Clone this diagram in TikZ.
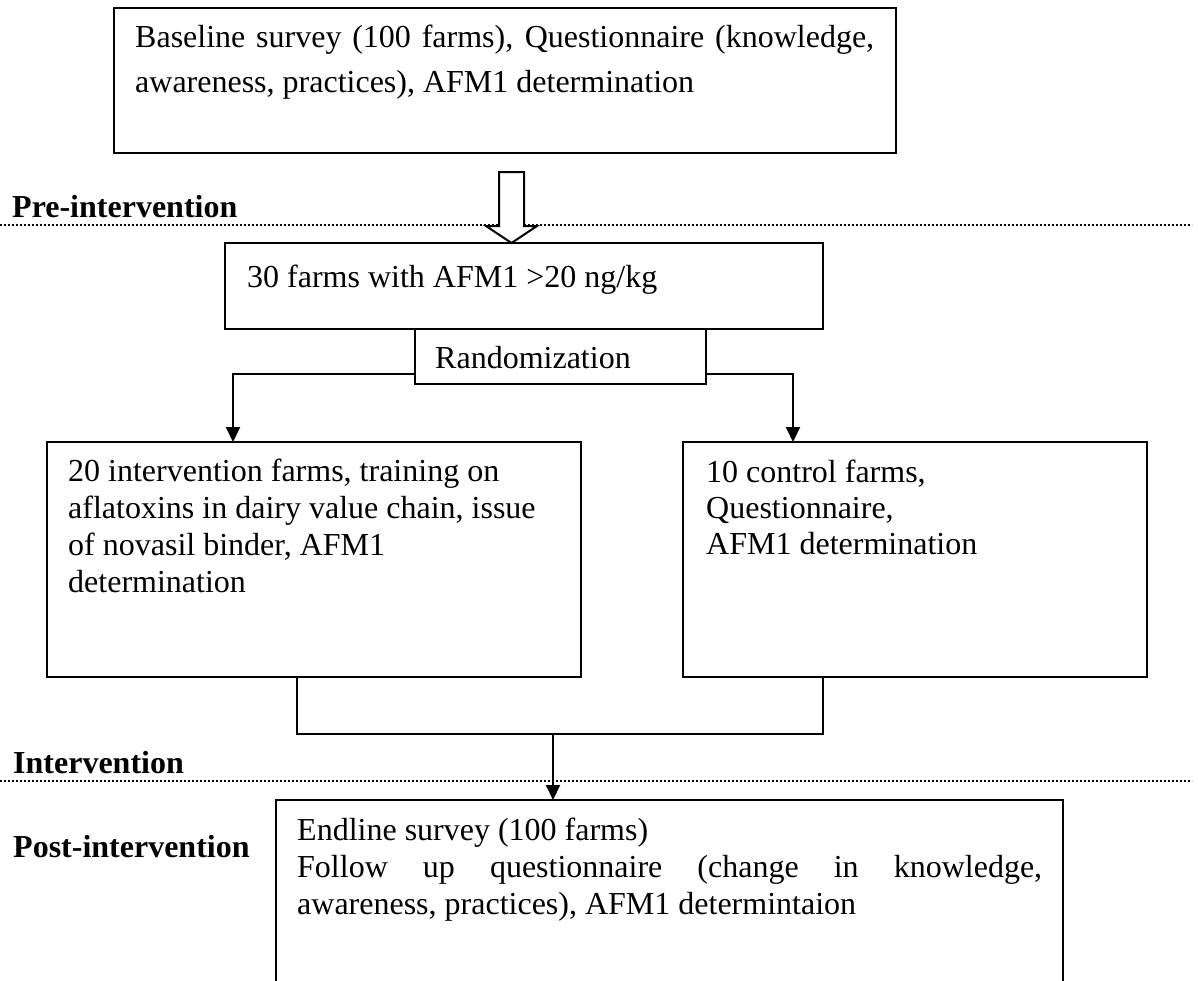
\documentclass[tikz,border=0pt]{standalone}
\usepackage{fontspec}
\setmainfont{Liberation Serif}
\usetikzlibrary{arrows.meta}
\begin{document}
\begin{tikzpicture}[x=1pt,y=-1pt,
  box/.style={draw, line width=2pt, inner sep=0pt, outer sep=0pt, anchor=north west},
  txt/.style={inner sep=0pt, anchor=base west, font=\fontsize{32pt}{37pt}\selectfont},
  lbl/.style={inner sep=0pt, anchor=base west, font=\fontsize{32pt}{37pt}\selectfont\bfseries},
  conn/.style={line width=2pt},
  arr/.style={line width=2pt, -{Triangle[length=15pt,width=14pt]}},
  dotline/.style={line width=2pt, dash pattern=on 2pt off 2pt}]
\useasboundingbox (0,0) rectangle (1198,980);
\clip (0,0) rectangle (1198,980);
% boxes
\node[box, minimum width=782pt, minimum height=145pt] (top) at (114,8) {};
\node[box, minimum width=598pt, minimum height=86pt] (sel) at (225,243) {};
\node[box, minimum width=291pt, minimum height=55pt, fill=white] (rand) at (415,329) {};
\node[box, minimum width=534pt, minimum height=235pt] (lbox) at (47,442) {};
\node[box, minimum width=464pt, minimum height=235pt] (rbox) at (683,442) {};
\node[box, minimum width=787pt, minimum height=220pt] (post) at (276,800) {};
% texts
\node[txt] (t1) at (135,47) {\makebox[739pt][s]{Baseline survey (100 farms), Questionnaire (knowledge,}};
\node[txt] (t2) at (135,92) {awareness, practices), AFM1 determination};
\node[txt] (s1) at (247,287) {30 farms with AFM1 >20 ng/kg};
\node[txt] (r1) at (435,368) {Randomization};
\node[txt] (l1) at (68,481) {20 intervention farms, training on};
\node[txt] (l2) at (68,518) {aflatoxins in dairy value chain, issue};
\node[txt] (l3) at (68,555) {of novasil binder, AFM1};
\node[txt] (l4) at (68,592) {determination};
\node[txt] (c1) at (706,482) {10 control farms,};
\node[txt] (c2) at (706,518) {Questionnaire,};
\node[txt] (c3) at (706,554) {AFM1 determination};
\node[txt] (p1) at (297,840) {Endline survey (100 farms)};
\node[txt] (p2) at (297,877) {\makebox[745pt][s]{Follow up questionnaire (change in knowledge,}};
\node[txt] (p3) at (297,914) {awareness, practices), AFM1 determintaion};
% phase labels
\node[lbl] (pre) at (12,217) {Pre-intervention};
\node[lbl] (int) at (13,773) {Intervention};
\node[lbl] (postl) at (13,857) {Post-intervention};
% dotted lines
\coordinate (d1a) at (0,225); \coordinate (d1b) at (1192,225);
\coordinate (d2a) at (0,781); \coordinate (d2b) at (1192,781);
\draw[dotline] (d1a) -- (d1b);
\draw[dotline] (d2a) -- (d2b);
% hollow arrow
\draw[line width=2pt, fill=white, line join=miter]
  (499,172) -- (524,172) -- (524,226) -- (537,226) -- (511.5,243) -- (486,226) -- (499,226) -- cycle;
% connectors
\draw[arr] ([yshift=-17.5pt]rand.west) -| ([xshift=-81pt]lbox.north);
\draw[arr] ([yshift=-17.5pt]rand.east) -| ([xshift=-122pt]rbox.north);
\draw[conn] ([xshift=-17pt]lbox.south) -- ++(0,57) coordinate (mleft) -| ([xshift=-92pt]rbox.south);
\coordinate (m) at (553,734);
\draw[arr] (m) -- (post.north -| m);
\end{tikzpicture}
\end{document}
